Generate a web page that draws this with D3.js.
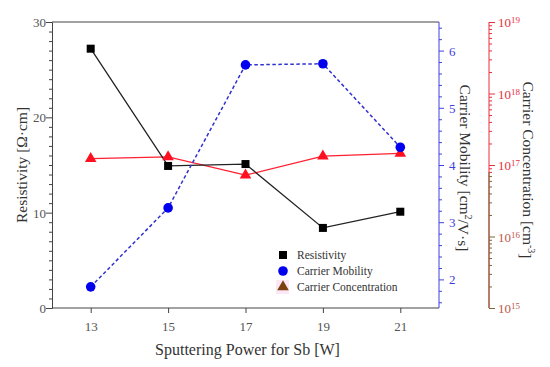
<!DOCTYPE html>
<html>
<head>
<meta charset="utf-8">
<script src="https://cdn.jsdelivr.net/npm/d3@7"></script>
<style>
  body { margin: 0; background: #fff; }
  svg { display: block; font-family: "Liberation Serif", "DejaVu Serif", serif; }
</style>
</head>
<body>
<svg id="svg" width="550" height="367"></svg>
<script>
// data
var power = [13, 15, 17, 19, 21];
var resistivity = [27.2, 14.9, 15.1, 8.4, 10.1];
var mobility = [1.87, 3.25, 5.75, 5.77, 4.31];
var concentration = [1.23e17, 1.3e17, 7.2e16, 1.33e17, 1.45e17];
var xTicks = [13, 15, 17, 19, 21];
var legendNames = ["Resistivity", "Carrier Mobility", "Carrier Concentration"];

var svg = d3.select("#svg");
var pLeft = 52, pRight = 439, pTop = 22, pBottom = 308;
var serif = "'Liberation Serif', 'DejaVu Serif', serif";

var x = d3.scaleLinear().domain([12, 22]).range([pLeft, pRight]);
var yR = d3.scaleLinear().domain([0, 30]).range([pBottom, pTop]);
var yM = d3.scaleLinear().domain([1.5, 6.5]).range([pBottom, pTop]);
var yC = d3.scaleLog().domain([1e15, 1e19]).range([pBottom, pTop]);

var grey = "#555";

//////// FRAME ////////
svg.append("line")
    .attr("x1", pLeft).attr("x2", pRight).attr("y1", pTop).attr("y2", pTop)
    .attr("stroke", "#444").attr("stroke-width", 1);

//////// LEFT AXIS ////////
var gL = svg.append("g").attr("transform", "translate(" + pLeft + ",0)");
gL.call(d3.axisLeft(yR).tickValues(d3.range(0, 31, 1)).tickSize(3).tickFormat(""));
var majL = gL.selectAll(".tick").filter(function(d) { return d % 10 === 0; });
majL.select("line").attr("x2", -6);
majL.append("text").attr("x", -6).attr("dy", "0.35em")
    .attr("text-anchor", "end").attr("fill", grey)
    .style("font-size", "13px").style("font-family", serif).text(function(d) { return d; });
gL.selectAll("path, line").attr("stroke", "#444");

//////// BOTTOM AXIS ////////
var gB = svg.append("g").attr("transform", "translate(0," + pBottom + ")");
gB.call(d3.axisBottom(x).tickValues(xTicks).tickSize(5).tickPadding(9));
gB.selectAll("path, line").attr("stroke", "#444");
gB.select("path").attr("d", "M" + pLeft + ",0H" + pRight);
gB.selectAll("text").attr("fill", grey).style("font-size", "13px").style("font-family", serif);

//////// MOBILITY AXIS ////////
var blue = "#4040e0";
var gM = svg.append("g").attr("transform", "translate(" + pRight + ",0)");
gM.call(d3.axisRight(yM).tickValues(d3.range(1.6, 6.5, 0.2).map(function(v) { return +v.toFixed(1); }))
    .tickSize(3).tickFormat(""));
var majM = gM.selectAll(".tick").filter(function(d) { return Math.abs(d - Math.round(d)) < 1e-6; });
majM.select("line").attr("x2", 5);
majM.append("text").attr("x", 10).attr("dy", "0.35em")
    .attr("fill", blue).style("font-size", "13px").style("font-family", serif)
    .text(function(d) { return Math.round(d); });
gM.selectAll("path, line").attr("stroke", blue);
gM.select("path").attr("d", "M0," + pBottom + "V" + pTop);

//////// CONCENTRATION AXIS ////////
var cAxisX = 489;
var red = "#e8303a", brown = "#7a6638";
var gC = svg.append("g").attr("transform", "translate(" + cAxisX + ",0)");
var logTicks = [];
for (var e = 15; e < 19; e++) for (var m = 1; m < 10; m++) logTicks.push(m * Math.pow(10, e));
logTicks.push(1e19);
gC.call(d3.axisRight(yC).tickValues(logTicks).tickSize(3).tickFormat(""));
gC.select("path").attr("d", "M0," + pBottom + "V" + pTop).attr("stroke", red);
gC.selectAll(".tick line").attr("stroke", function(d) { return d < 8e16 ? brown : red; });
gC.append("line").attr("x1", 0).attr("x2", 0)
    .attr("y1", pBottom).attr("y2", yC(8e16)).attr("stroke", brown);
var majC = gC.selectAll(".tick").filter(function(d) {
    return Math.abs(Math.log10(d) - Math.round(Math.log10(d))) < 1e-9;
});
majC.select("line").attr("x2", 6);
var tC0 = majC.append("text").attr("x", 9).attr("dy", "0.35em")
    .attr("fill", function(d) { return d < 5e16 ? "#c05848" : red; })
    .style("font-size", "13px").style("font-family", serif);
tC0.append("tspan").text("10");
tC0.append("tspan").attr("dy", "-0.45em").style("font-size", "9px")
    .text(function(d) { return Math.round(Math.log10(d)); });

//////// AXIS TITLES ////////
svg.append("text")
    .attr("transform", "translate(27," + ((pTop + pBottom) / 2) + ")rotate(-90)")
    .attr("text-anchor", "middle").attr("fill", "#333").style("font-size", "15.5px")
    .text("Resistivity [Ω·cm]");

var tM = svg.append("text")
    .attr("transform", "translate(460,168)rotate(90)")
    .attr("text-anchor", "middle").attr("fill", "#333").style("font-size", "15.5px");
tM.append("tspan").text("Carrier Mobility [cm");
tM.append("tspan").attr("dy", "-0.45em").style("font-size", "10px").text("2");
tM.append("tspan").attr("dy", "0.45em").text("/V·s]");

var tC = svg.append("text")
    .attr("transform", "translate(523,170)rotate(90)")
    .attr("text-anchor", "middle").attr("fill", "#333").style("font-size", "15.5px");
tC.append("tspan").text("Carrier Concentration [cm");
tC.append("tspan").attr("dy", "-0.45em").style("font-size", "10px").text("-3");
tC.append("tspan").attr("dy", "0.45em").text("]");

svg.append("text")
    .attr("x", (pLeft + pRight) / 2 + 2).attr("y", 355)
    .attr("text-anchor", "middle").attr("fill", "#333").style("font-size", "16px")
    .text("Sputtering Power for Sb [W]");

//////// LINES ////////
function series(vals, yScale) {
    return power.map(function(p, i) { return [x(p), yScale(vals[i])]; });
}
var line = d3.line();

svg.append("path").attr("d", line(series(concentration, yC)))
    .attr("fill", "none").attr("stroke", "#ff2030").attr("stroke-width", 1.3);
svg.append("path").attr("d", line(series(resistivity, yR)))
    .attr("fill", "none").attr("stroke", "#222").attr("stroke-width", 1.3);
svg.append("path").attr("d", line(series(mobility, yM)))
    .attr("fill", "none").attr("stroke", "#3030d0").attr("stroke-width", 1.5)
    .attr("stroke-dasharray", "3.5,2.5");

//////// MARKERS ////////
var tri = d3.symbol().type(d3.symbolTriangle).size(58);
svg.selectAll("path.tri").data(series(concentration, yC)).enter()
    .append("path").attr("class", "tri")
    .attr("transform", function(d) { return "translate(" + d[0] + "," + d[1] + ")"; })
    .attr("d", tri).attr("fill", "#ff1020");

svg.selectAll("rect.sq").data(series(resistivity, yR)).enter()
    .append("rect").attr("class", "sq")
    .attr("x", function(d) { return d[0] - 4; }).attr("y", function(d) { return d[1] - 4; })
    .attr("width", 8).attr("height", 8).attr("fill", "#000");

svg.selectAll("circle.mob").data(series(mobility, yM)).enter()
    .append("circle").attr("class", "mob")
    .attr("cx", function(d) { return d[0]; }).attr("cy", function(d) { return d[1]; })
    .attr("r", 4.8).attr("fill", "#0000ee");

//////// LEGEND ////////
var lg = svg.append("g").attr("transform", "translate(283,255)");
lg.append("rect").attr("x", -7).attr("y", 25).attr("width", 13).attr("height", 14).attr("fill", "#fde6f6");
lg.append("rect").attr("x", -4).attr("y", -4).attr("width", 8).attr("height", 8).attr("fill", "#000");
lg.append("circle").attr("cx", 0).attr("cy", 16).attr("r", 4.8).attr("fill", "#0000ee");
lg.append("path").attr("transform", "translate(0,32)").attr("d", tri).attr("fill", "#7a4010");
lg.selectAll("text").data(legendNames).enter().append("text")
    .attr("x", 14).attr("y", function(d, i) { return i * 16; }).attr("dy", "0.35em")
    .attr("fill", "#333").style("font-size", "11.5px")
    .text(function(d) { return d; });
</script>
</body>
</html>
